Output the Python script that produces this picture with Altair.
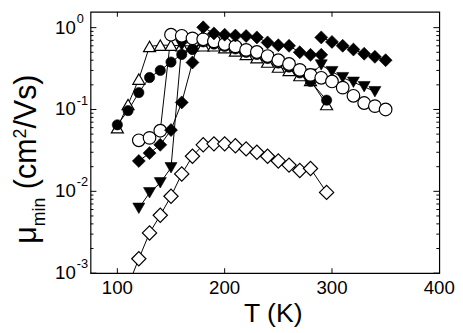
import altair as alt
import pandas as pd

# ---------------- data ----------------
tri_open_T = [100, 110, 120, 130, 140, 150, 160, 170, 180, 190, 200, 210, 220, 230, 240, 250, 260, 270, 280, 295]
tri_open_mu = [0.060, 0.115, 0.235, 0.59, 0.61, 0.61, 0.60, 0.60, 0.60, 0.60, 0.57, 0.52, 0.47, 0.43, 0.38, 0.33, 0.30, 0.26, 0.227, 0.115]

circ_fill_T = [100, 110, 120, 130, 140, 150, 160, 170, 180, 190, 200, 210, 220, 230, 240, 250, 260, 270, 280, 295]
circ_fill_mu = [0.065, 0.097, 0.161, 0.246, 0.30, 0.38, 0.47, 0.54, 0.67, 0.63, 0.59, 0.55, 0.50, 0.47, 0.42, 0.37, 0.33, 0.28, 0.22, 0.13]

tri_down_T = [120, 130, 140, 150, 160, 170, 180, 190, 200, 210, 220, 230, 240, 250, 260, 270, 280, 290, 300, 310, 320, 330, 340]
tri_down_mu = [0.0062, 0.0096, 0.0127, 0.0194, 0.61, 0.70, 0.68, 0.65, 0.60, 0.56, 0.51, 0.48, 0.43, 0.38, 0.34, 0.29, 0.27, 0.35, 0.29, 0.245, 0.215, 0.19, 0.165]

circ_open_T = [120, 130, 140, 150, 160, 170, 180, 190, 200, 210, 220, 230, 240, 250, 260, 270, 280, 290, 300, 310, 320, 330, 340, 350]
circ_open_mu = [0.042, 0.045, 0.055, 0.82, 0.795, 0.74, 0.72, 0.68, 0.63, 0.59, 0.535, 0.505, 0.45, 0.40, 0.36, 0.305, 0.265, 0.244, 0.22, 0.185, 0.147, 0.12, 0.11, 0.10]

dia_open_T = [110, 120, 130, 140, 150, 160, 170, 180, 190, 200, 210, 220, 230, 240, 250, 260, 270, 280, 295]
dia_open_mu = [0.0007, 0.0015, 0.0031, 0.0051, 0.0087, 0.0163, 0.0268, 0.037, 0.038, 0.038, 0.036, 0.033, 0.030, 0.0268, 0.0235, 0.0209, 0.018, 0.019, 0.0097]

dia_fill_a_T = [120, 130, 140, 150, 160, 170, 180, 190, 200, 210, 220, 230, 240, 250, 260, 270, 280, 290]
dia_fill_a_mu = [0.0235, 0.0293, 0.037, 0.056, 0.122, 0.375, 1.01, 0.85, 0.82, 0.80, 0.79, 0.76, 0.66, 0.61, 0.60, 0.50, 0.465, 0.465]

dia_fill_b_T = [290, 300, 310, 320, 330, 340, 350]
dia_fill_b_mu = [0.76, 0.67, 0.60, 0.54, 0.48, 0.44, 0.40]

x_tick_values = [100, 200, 300, 400]
x_tick_labels = ["100", "200", "300", "400"]
y_decades = [1, 0.1, 0.01, 0.001]
y_exponents = ["0", "-1", "-2", "-3"]
y_minor = [k * 10.0 ** n for n in (-3, -2, -1) for k in range(2, 10)]

# ---------------- table ----------------
rows = []
def add(name, Ts, mus):
    for t, m in zip(Ts, mus):
        rows.append({"series": name, "T": t, "mu": m})

add("tri_open", tri_open_T, tri_open_mu)
add("circ_fill", circ_fill_T, circ_fill_mu)
add("tri_down", tri_down_T, tri_down_mu)
add("circ_open", circ_open_T, circ_open_mu)
add("dia_open", dia_open_T, dia_open_mu)
add("dia_fill_a", dia_fill_a_T, dia_fill_a_mu)
add("dia_fill_b", dia_fill_b_T, dia_fill_b_mu)
df = pd.DataFrame(rows)

W, H = 355, 266
FONT = "Liberation Sans"
xs = alt.Scale(domain=[75, 400], nice=False, zero=False)
ys = alt.Scale(type="log", domain=[0.001, 1.56], nice=False)

X = alt.X("T:Q", scale=xs, axis=None)
Y = alt.Y("mu:Q", scale=ys, axis=None)

base = alt.Chart(df)
lines = base.mark_line(color="black", strokeWidth=1, clip=True).encode(
    X, Y, detail="series:N", order="T:Q"
)

def pts(names, shape, filled, size):
    return base.transform_filter(
        alt.FieldOneOfPredicate(field="series", oneOf=names)
    ).mark_point(
        shape=shape, filled=True, color="black",
        fill="black" if filled else "white", stroke="black",
        strokeWidth=0.6 if filled else 1.2, size=size,
        opacity=1, fillOpacity=1, strokeOpacity=1, clip=True,
    ).encode(X, Y)

p_tri = pts(["tri_open"], "triangle-up", False, 150)
p_cf = pts(["circ_fill"], "circle", True, 110)
p_td = pts(["tri_down"], "triangle-down", True, 150)
p_co = pts(["circ_open"], "circle", False, 165)
p_do = pts(["dia_open"], "diamond", False, 210)
p_df = pts(["dia_fill_a", "dia_fill_b"], "diamond", True, 175)

# ticks (inside)
xt = pd.DataFrame({"T": x_tick_values[:3]})
xt_b = alt.Chart(xt).mark_rule(color="black").encode(x=alt.X("T:Q", scale=xs, axis=None), y=alt.value(H), y2=alt.value(H - 5))
xt_t = alt.Chart(xt).mark_rule(color="black").encode(x=alt.X("T:Q", scale=xs, axis=None), y=alt.value(0), y2=alt.value(5))
ymaj = pd.DataFrame({"mu": y_decades})
ymin = pd.DataFrame({"mu": y_minor})
yt_l = alt.Chart(ymaj).mark_rule(color="black").encode(y=alt.Y("mu:Q", scale=ys, axis=None), x=alt.value(0), x2=alt.value(6))
yt_r = alt.Chart(ymaj).mark_rule(color="black").encode(y=alt.Y("mu:Q", scale=ys, axis=None), x=alt.value(W), x2=alt.value(W - 6))
ym_l = alt.Chart(ymin).mark_rule(color="black").encode(y=alt.Y("mu:Q", scale=ys, axis=None), x=alt.value(0), x2=alt.value(3))
ym_r = alt.Chart(ymin).mark_rule(color="black").encode(y=alt.Y("mu:Q", scale=ys, axis=None), x=alt.value(W), x2=alt.value(W - 3))

# tick labels
xl = pd.DataFrame({"T": x_tick_values, "label": x_tick_labels})
x_labels = alt.Chart(xl).mark_text(font=FONT, fontSize=19, align="center", baseline="middle", color="black").encode(
    x=alt.X("T:Q", scale=xs, axis=None), y=alt.value(H + 15), text="label:N"
)
yl = pd.DataFrame({"mu": y_decades, "exp": y_exponents, "ten": ["10"] * 4})
y_ten = alt.Chart(yl).mark_text(font=FONT, fontSize=19, align="right", baseline="middle", color="black").encode(
    y=alt.Y("mu:Q", scale=ys, axis=None), x=alt.value(-15), text="ten:N"
)
y_exp = alt.Chart(yl).mark_text(font=FONT, fontSize=13, align="left", baseline="middle", dy=-9, color="black").encode(
    y=alt.Y("mu:Q", scale=ys, axis=None), x=alt.value(-14), text="exp:N"
)

# axis titles
def txt(s, x, y, size, angle=0, align="left", baseline="alphabetic"):
    return alt.Chart(pd.DataFrame({"s": [s]})).mark_text(
        font=FONT, fontSize=size, angle=angle, align=align, baseline=baseline, color="black"
    ).encode(x=alt.value(x), y=alt.value(y), text="s:N")

x_title = txt("T (K)", 186, H + 50, 27, align="center")

FS, SS = 31, 18
bx = -55
y0 = 236
l_mu = 0.576 * FS
l_min = (0.833 + 0.222 + 0.556) * SS
l_sp = 0.278 * FS
l_cm = (0.333 + 0.5 + 0.833) * FS
l_two = 0.556 * SS
t_mu = txt("μ", bx, y0, FS, angle=270)
t_min = txt("min", bx + 9, y0 - l_mu, SS, angle=270)
y_cm = y0 - l_mu - l_min - l_sp
t_cm = txt("(cm", bx, y_cm, FS, angle=270)
t_sq = txt("2", bx - 11, y_cm - l_cm, SS, angle=270)
t_vs = txt("/Vs)", bx, y_cm - l_cm - l_two, FS, angle=270)

chart = alt.layer(
    lines, p_tri, p_cf, p_td, p_co, p_do, p_df,
    xt_b, xt_t, yt_l, yt_r, ym_l, ym_r,
    x_labels, y_ten, y_exp, x_title, t_mu, t_min, t_cm, t_sq, t_vs,
).properties(
    width=W, height=H,
    autosize=alt.AutoSizeParams(type="none"),
    padding={"left": 84, "top": 1, "right": 16, "bottom": 58},
).configure_view(stroke="black", strokeWidth=1.2)

chart.save("out.html", embed_options={"renderer": "svg", "actions": False})
